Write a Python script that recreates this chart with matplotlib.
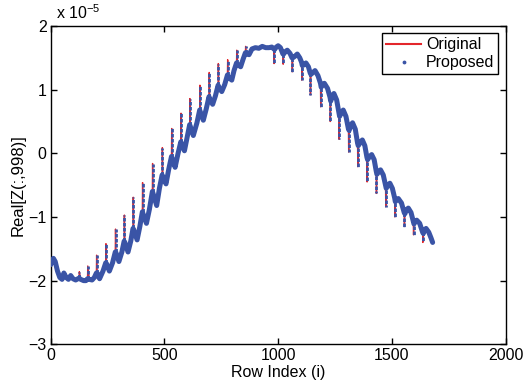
import numpy as np
import matplotlib
matplotlib.use("Agg")
import matplotlib.pyplot as plt
from matplotlib.lines import Line2D

plt.rcParams["font.family"] = ["Liberation Sans", "DejaVu Sans"]
plt.rcParams["mathtext.fontset"] = "custom"
plt.rcParams["mathtext.rm"] = "Liberation Sans"
plt.rcParams["mathtext.it"] = "Liberation Sans"

# values of Real[Z(:,998)] in units of 1e-5
band_rows = [0, 5, 12, 20, 30, 40, 50, 58, 68, 78, 88, 98, 110, 125, 132, 145, 155, 162,
             170, 182, 192, 201, 204, 215, 230, 242, 245, 258, 272, 284, 287, 300, 313,
             323, 326, 340, 352, 362, 365, 380, 392, 403, 406, 421, 434, 447, 450, 466,
             478, 490, 493, 507, 519, 531, 534, 547, 560, 572, 575, 588, 600, 611, 614,
             627, 643, 655, 658, 671, 684, 696, 699, 712, 724, 736, 739, 752, 765, 777,
             780, 796, 806, 817, 820, 835, 846, 856, 859, 872, 885, 900, 915, 930, 945,
             960, 972, 981, 984, 992, 1000, 1010, 1021, 1024, 1032, 1040, 1052, 1061,
             1064, 1072, 1084, 1095, 1103, 1106, 1114, 1122, 1133, 1141, 1144, 1153,
             1162, 1175, 1186, 1189, 1196, 1203, 1217, 1228, 1231, 1238, 1245, 1257,
             1267, 1270, 1278, 1286, 1298, 1309, 1312, 1320, 1327, 1339, 1349, 1352,
             1361, 1370, 1381, 1390, 1393, 1402, 1411, 1422, 1431, 1434, 1442, 1450,
             1462, 1472, 1475, 1483, 1491, 1502, 1512, 1515, 1521, 1528, 1542, 1554,
             1557, 1564, 1572, 1584, 1594, 1597, 1603, 1609, 1622, 1635, 1638, 1644,
             1650, 1662, 1672, 1679]
band_vals = [-1.75, -1.70, -1.65, -1.70, -1.85, -1.95, -1.98, -1.88, -1.95, -1.98, -1.92,
             -1.97, -1.99, -1.96, -1.98, -2.00, -2.00, -1.97, -1.98, -1.99, -1.95, -1.88,
             -1.88, -1.97, -1.85, -1.72, -1.73, -1.85, -1.72, -1.55, -1.56, -1.70, -1.55,
             -1.38, -1.40, -1.55, -1.38, -1.18, -1.20, -1.36, -1.15, -0.92, -0.95, -1.10,
             -0.88, -0.60, -0.63, -0.82, -0.55, -0.34, -0.37, -0.48, -0.25, -0.05, -0.08,
             -0.22, 0.00, 0.18, 0.15, 0.04, 0.25, 0.45, 0.42, 0.28, 0.48, 0.68, 0.65,
             0.52, 0.70, 0.89, 0.86, 0.77, 0.90, 1.07, 1.04, 0.97, 1.08, 1.23, 1.20,
             1.15, 1.30, 1.42, 1.40, 1.36, 1.48, 1.58, 1.56, 1.55, 1.64, 1.66, 1.65,
             1.68, 1.66, 1.66, 1.67, 1.64, 1.63, 1.67, 1.69, 1.66, 1.56, 1.56, 1.60,
             1.62, 1.57, 1.50, 1.50, 1.52, 1.56, 1.50, 1.43, 1.38, 1.39, 1.42, 1.36,
             1.26, 1.24, 1.27, 1.30, 1.22, 1.10, 1.04, 1.07, 1.10, 1.02, 0.88, 0.82,
             0.90, 0.94, 0.84, 0.64, 0.58, 0.64, 0.68, 0.58, 0.38, 0.36, 0.44, 0.48,
             0.38, 0.16, 0.12, 0.17, 0.21, 0.12, -0.06, -0.10, -0.05, -0.02, -0.10,
             -0.28, -0.33, -0.29, -0.26, -0.34, -0.50, -0.55, -0.50, -0.47, -0.55,
             -0.70, -0.76, -0.73, -0.71, -0.78, -0.93, -0.95, -0.89, -0.86, -0.93,
             -1.07, -1.11, -1.07, -1.05, -1.10, -1.24, -1.26, -1.21, -1.18, -1.24,
             -1.33, -1.40]

spike_rows = [126, 163, 202, 243, 285, 324, 363, 404, 448, 491, 532, 573, 612, 656, 697,
              737, 778, 818, 857, 982, 1022, 1062, 1104, 1142, 1187, 1229, 1268, 1310,
              1350, 1391, 1432, 1473, 1513, 1555, 1595, 1636]
spike_base = [-1.96, -1.97, -1.88, -1.72, -1.55, -1.38, -1.18, -0.92, -0.60, -0.34, -0.05,
              0.18, 0.45, 0.68, 0.89, 1.07, 1.23, 1.42, 1.58, 1.64, 1.56, 1.50, 1.43,
              1.26, 1.10, 0.88, 0.64, 0.38, 0.16, -0.06, -0.28, -0.50, -0.70, -0.93,
              -1.07, -1.24]
spike_tip = [-1.86, -1.77, -1.60, -1.42, -1.19, -0.97, -0.69, -0.46, -0.16, 0.09, 0.39,
             0.63, 0.86, 1.07, 1.27, 1.41, 1.47, 1.62, 1.68, 1.41, 1.40, 1.28, 1.15,
             0.92, 0.73, 0.50, 0.22, 0.02, -0.21, -0.45, -0.63, -0.84, -1.00, -1.15,
             -1.28, -1.40]

blue = "#3a54a6"
red = "#e3262b"

# original curve = band knots plus spike tips, in row order
orig_x = np.concatenate([band_rows, spike_rows])
orig_y = np.concatenate([band_vals, spike_tip])
order = np.argsort(orig_x, kind="stable")

fig = plt.figure(figsize=(5.24, 3.90), dpi=100)
ax = fig.add_axes([0.0967, 0.1172, 0.8683, 0.8161])

ax.plot(orig_x[order], orig_y[order], color=red, lw=1.0, zorder=2)
ax.plot(band_rows, band_vals, color=blue, lw=3.6, solid_capstyle="round",
        solid_joinstyle="round", zorder=3)
ax.vlines(spike_rows, spike_base, spike_tip, colors=blue, lw=2.0,
          linestyles=(0, (1.3, 0.5)), zorder=4)

ax.set_xlim(0, 2000)
ax.set_ylim(-3, 2)
ax.set_xticks([0, 500, 1000, 1500, 2000])
ax.set_yticks([-3, -2, -1, 0, 1, 2])
ax.set_yticklabels(["\u22123", "\u22122", "\u22121", "0", "1", "2"])
ax.tick_params(direction="in", top=True, right=True, length=4.5, width=1,
               labelsize=11.5, pad=3)
for sp in ax.spines.values():
    sp.set_linewidth(1.0)

ax.set_xlabel("Row Index (i)", fontsize=11.5, labelpad=1)
ax.set_ylabel("Real[Z(:,998)]", fontsize=12, labelpad=2)
ax.text(0.012, 1.012, "x 10$^{\u22125}$", transform=ax.transAxes, fontsize=11.5,
        ha="left", va="bottom")

handles = [Line2D([], [], color=red, lw=1.5),
           Line2D([], [], color=blue, marker=".", ms=3.5, ls="none")]
leg = ax.legend(handles, ["Original", "Proposed"], loc="upper right", fontsize=11.5,
                fancybox=False, edgecolor="black", framealpha=1, borderpad=0.25,
                handlelength=2.2, handletextpad=0.3, labelspacing=0.2,
                borderaxespad=0.45)
leg.get_frame().set_linewidth(1.0)

fig.savefig("out.png", dpi=100)
